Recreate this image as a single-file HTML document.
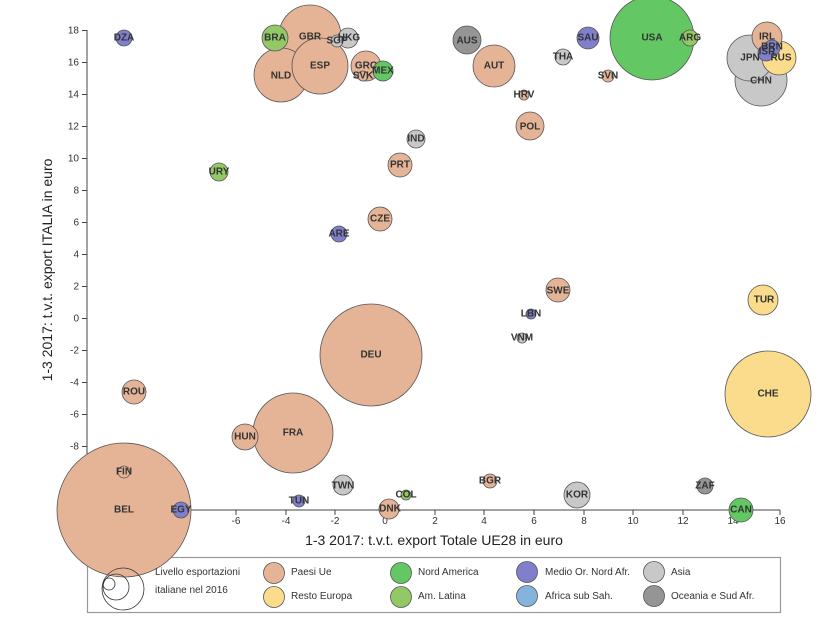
<!DOCTYPE html>
<html><head><meta charset="utf-8"><style>
body{margin:0;background:#fff}
svg{display:block;font-family:"Liberation Sans",sans-serif}
.l{font-size:10px;font-weight:bold;fill:#333;text-anchor:middle;dominant-baseline:central}
.t{font-size:10px;fill:#333}
.c circle{stroke:#555;stroke-width:0.8}
</style></head><body>
<svg width="822" height="624" viewBox="0 0 822 624">
<g stroke="#444" stroke-width="1" fill="none">
<line x1="87" y1="30" x2="87" y2="510"/>
<line x1="87" y1="510" x2="780" y2="510"/>
</g>
<g stroke="#444">
<line x1="82" y1="30.5" x2="87" y2="30.5"/><line x1="82" y1="62.5" x2="87" y2="62.5"/><line x1="82" y1="94.5" x2="87" y2="94.5"/><line x1="82" y1="126.5" x2="87" y2="126.5"/><line x1="82" y1="158.5" x2="87" y2="158.5"/><line x1="82" y1="190.5" x2="87" y2="190.5"/><line x1="82" y1="222.5" x2="87" y2="222.5"/><line x1="82" y1="254.5" x2="87" y2="254.5"/><line x1="82" y1="286.5" x2="87" y2="286.5"/><line x1="82" y1="318.5" x2="87" y2="318.5"/><line x1="82" y1="350.5" x2="87" y2="350.5"/><line x1="82" y1="382.5" x2="87" y2="382.5"/><line x1="82" y1="414.5" x2="87" y2="414.5"/><line x1="82" y1="446.5" x2="87" y2="446.5"/>
<line x1="236" y1="510" x2="236" y2="515"/><line x1="286" y1="510" x2="286" y2="515"/><line x1="335" y1="510" x2="335" y2="515"/><line x1="385" y1="510" x2="385" y2="515"/><line x1="435" y1="510" x2="435" y2="515"/><line x1="484" y1="510" x2="484" y2="515"/><line x1="534" y1="510" x2="534" y2="515"/><line x1="584" y1="510" x2="584" y2="515"/><line x1="633" y1="510" x2="633" y2="515"/><line x1="683" y1="510" x2="683" y2="515"/><line x1="733" y1="510" x2="733" y2="515"/><line x1="780" y1="510" x2="780" y2="515"/>
</g>
<g class="t" text-anchor="end" dominant-baseline="central">
<text x="79" y="31">18</text><text x="79" y="63">16</text><text x="79" y="95">14</text><text x="79" y="127">12</text><text x="79" y="159">10</text><text x="79" y="191">8</text><text x="79" y="223">6</text><text x="79" y="255">4</text><text x="79" y="287">2</text><text x="79" y="319">0</text><text x="79" y="351">-2</text><text x="79" y="383">-4</text><text x="79" y="415">-6</text><text x="79" y="447">-8</text>
</g>
<g class="t" text-anchor="middle">
<text x="236" y="524">-6</text><text x="286" y="524">-4</text><text x="335" y="524">-2</text><text x="385" y="524">0</text><text x="435" y="524">2</text><text x="484" y="524">4</text><text x="534" y="524">6</text><text x="584" y="524">8</text><text x="633" y="524">10</text><text x="683" y="524">12</text><text x="733" y="524">14</text><text x="780" y="524">16</text>
</g>
<text x="434" y="545" font-size="14" fill="#222" text-anchor="middle">1-3 2017: t.v.t. export Totale UE28 in euro</text>
<text transform="translate(52,270) rotate(-90)" font-size="14" fill="#222" text-anchor="middle">1-3 2017: t.v.t. export ITALIA in euro</text>
<rect x="87.5" y="557.5" width="693" height="55" fill="none" stroke="#999" stroke-width="1.2"/>
<g class="c">
<circle cx="124" cy="510" r="67" fill="#e5b496"/>
<circle cx="371" cy="355" r="51" fill="#e5b496"/>
<circle cx="768" cy="394" r="43" fill="#fadc8c"/>
<circle cx="652" cy="38" r="42" fill="#63c863"/>
<circle cx="293" cy="433" r="40" fill="#e5b496"/>
<circle cx="310" cy="36" r="31" fill="#e5b496"/>
<circle cx="761" cy="80" r="26" fill="#c8c8c8"/>
<circle cx="281" cy="75" r="27" fill="#e5b496"/>
<circle cx="320" cy="66" r="28" fill="#e5b496"/>
<circle cx="750" cy="58" r="23" fill="#c8c8c8"/>
<circle cx="494" cy="66" r="21" fill="#e5b496"/>
<circle cx="779" cy="58" r="17" fill="#fadc8c"/>
<circle cx="767" cy="37" r="15" fill="#e5b496"/>
<circle cx="467" cy="40" r="14" fill="#959595"/>
<circle cx="366" cy="66" r="15" fill="#e5b496"/>
<circle cx="763" cy="300" r="15" fill="#fadc8c"/>
<circle cx="530" cy="126" r="14" fill="#e5b496"/>
<circle cx="275" cy="38" r="13" fill="#93c866"/>
<circle cx="245" cy="437" r="13" fill="#e5b496"/>
<circle cx="577" cy="495" r="13" fill="#c8c8c8"/>
<circle cx="400" cy="165" r="12" fill="#e5b496"/>
<circle cx="380" cy="219" r="12" fill="#e5b496"/>
<circle cx="558" cy="290" r="12" fill="#e5b496"/>
<circle cx="134" cy="392" r="12" fill="#e5b496"/>
<circle cx="741" cy="510" r="12" fill="#63c863"/>
<circle cx="588" cy="38" r="11" fill="#7f7fcc"/>
<circle cx="348" cy="38" r="10" fill="#c8c8c8"/>
<circle cx="383" cy="71" r="10" fill="#63c863"/>
<circle cx="343" cy="485" r="10" fill="#c8c8c8"/>
<circle cx="389" cy="509" r="10" fill="#e5b496"/>
<circle cx="219" cy="172" r="9" fill="#93c866"/>
<circle cx="416" cy="139" r="9" fill="#c8c8c8"/>
<circle cx="124" cy="38" r="8" fill="#7f7fcc"/>
<circle cx="339" cy="234" r="8" fill="#7f7fcc"/>
<circle cx="563" cy="57" r="8" fill="#c8c8c8"/>
<circle cx="690" cy="38" r="8" fill="#93c866"/>
<circle cx="772" cy="48" r="8" fill="#7f7fcc"/>
<circle cx="766" cy="53" r="8" fill="#7f7fcc"/>
<circle cx="181" cy="510" r="8" fill="#7f7fcc"/>
<circle cx="705" cy="486" r="8" fill="#959595"/>
<circle cx="490" cy="481" r="7" fill="#e5b496"/>
<circle cx="337" cy="41" r="6" fill="#c8c8c8"/>
<circle cx="608" cy="76" r="6" fill="#e5b496"/>
<circle cx="124" cy="472" r="6" fill="#e5b496"/>
<circle cx="299" cy="501" r="6" fill="#7f7fcc"/>
<circle cx="363" cy="76" r="5" fill="#e5b496"/>
<circle cx="524" cy="95" r="5" fill="#e5b496"/>
<circle cx="531" cy="314" r="5" fill="#7f7fcc"/>
<circle cx="522" cy="338" r="5" fill="#c8c8c8"/>
<circle cx="406" cy="495" r="5" fill="#93c866"/>
</g>
<g class="l">
<text x="124" y="38">DZA</text><text x="219" y="172">URY</text><text x="275" y="38">BRA</text><text x="310" y="37">GBR</text><text x="337" y="41">SGP</text><text x="349" y="38">HKG</text><text x="281" y="76">NLD</text><text x="320" y="66">ESP</text><text x="366" y="66">GRC</text><text x="363" y="76">SVK</text><text x="383" y="71">MEX</text><text x="416" y="139">IND</text><text x="400" y="165">PRT</text><text x="380" y="219">CZE</text><text x="339" y="234">ARE</text><text x="467" y="41">AUS</text><text x="494" y="66">AUT</text><text x="524" y="95">HRV</text><text x="530" y="127">POL</text><text x="563" y="57">THA</text><text x="588" y="38">SAU</text><text x="608" y="76">SVN</text><text x="652" y="38">USA</text><text x="690" y="38">ARG</text><text x="767" y="37">IRL</text><text x="772" y="47">BRN</text><text x="767" y="52">ISR</text><text x="750" y="58">JPN</text><text x="781" y="58">RUS</text><text x="761" y="81">CHN</text><text x="558" y="291">SWE</text><text x="531" y="314">LBN</text><text x="522" y="338">VNM</text><text x="764" y="300">TUR</text><text x="371" y="355">DEU</text><text x="768" y="394">CHE</text><text x="134" y="392">ROU</text><text x="245" y="437">HUN</text><text x="293" y="433">FRA</text><text x="124" y="472">FIN</text><text x="124" y="510">BEL</text><text x="181" y="510">EGY</text><text x="343" y="486">TWN</text><text x="299" y="501">TUN</text><text x="406" y="495">COL</text><text x="390" y="509">DNK</text><text x="490" y="481">BGR</text><text x="577" y="495">KOR</text><text x="705" y="486">ZAF</text><text x="741" y="510">CAN</text>
</g>
<g fill="none" stroke="#333" stroke-width="0.8">
<circle cx="123" cy="589" r="21"/><circle cx="116" cy="587" r="13"/><circle cx="109" cy="584" r="6"/>
</g>
<g class="t" font-size="10" fill="#444">
<text x="155" y="575">Livello esportazioni</text><text x="155" y="593">italiane nel 2016</text>
<text x="291" y="575">Paesi Ue</text><text x="291" y="599">Resto Europa</text>
<text x="418" y="575">Nord America</text><text x="418" y="599">Am. Latina</text>
<text x="545" y="575">Medio Or. Nord Afr.</text><text x="545" y="599">Africa sub Sah.</text>
<text x="671" y="575">Asia</text><text x="671" y="599">Oceania e Sud Afr.</text>
</g>
<g class="c">
<circle cx="274" cy="573" r="10.5" fill="#e5b496"/><circle cx="274" cy="597" r="10.5" fill="#fadc8c"/>
<circle cx="401" cy="573" r="10.5" fill="#63c863"/><circle cx="401" cy="597" r="10.5" fill="#93c866"/>
<circle cx="527" cy="572" r="10.5" fill="#7f7fcc"/><circle cx="527" cy="596" r="10.5" fill="#84b4dc"/>
<circle cx="654" cy="572" r="10.5" fill="#c8c8c8"/><circle cx="654" cy="596" r="10.5" fill="#959595"/>
</g>
</svg>
</body></html>
